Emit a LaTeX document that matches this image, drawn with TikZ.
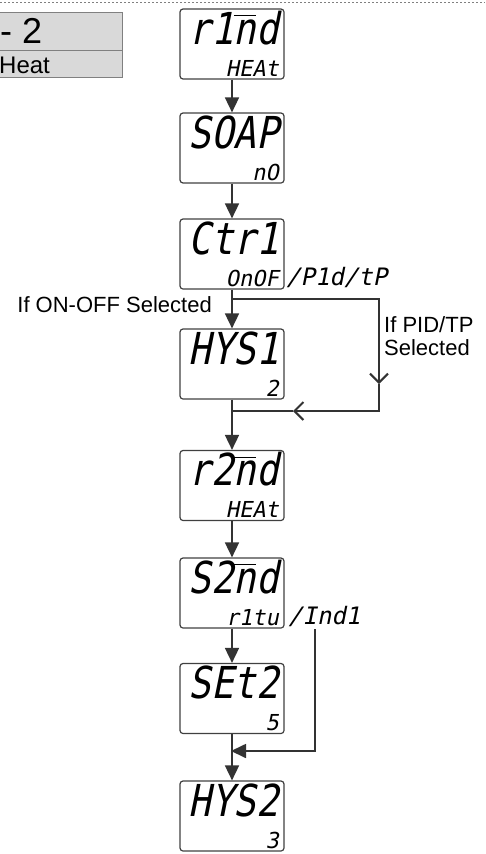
\documentclass[tikz,border=0pt]{standalone}
\usepackage{fontspec}
\setmainfont{Liberation Sans}
\newfontfamily\segbig[FakeSlant=0.2,FakeStretch=0.85]{DejaVu Sans Mono}
\newfontfamily\segsmall[FakeSlant=0.2]{DejaVu Sans Mono}
\newcommand\barn{$\overline{\hbox{n\rule{0pt}{27pt}}}$}
\usetikzlibrary{arrows.meta}

\begin{document}
\begin{tikzpicture}[x=1pt, y=-1pt,
    disp/.style={draw=black!75, line width=1.2pt, rounded corners=3pt, minimum width=104pt, minimum height=70pt, inner sep=0pt},
    bigtxt/.style={font=\fontsize{44}{44}\segbig, inner sep=0pt, anchor=base east},
    smalltxt/.style={font=\fontsize{22}{22}\segsmall, inner sep=0pt, anchor=base east},
    sidetxt/.style={font=\fontsize{24}{24}\segsmall, inner sep=0pt, anchor=base west},
    lbl/.style={font=\fontsize{22}{23}\selectfont, inner sep=0pt},
    flow/.style={draw=black!80, line width=1.7pt, -{Triangle[length=15pt,width=14pt]}},
    barb/.style={draw=black!80, line width=1.7pt, -{Straight Barb[length=9pt,width=18pt,line width=2pt]}},
    plain/.style={draw=black!80, line width=1.7pt}]
        \useasboundingbox (0,0) rectangle (485,854);

        % Dotted rule at the top
        \draw[gray, dash pattern=on 2pt off 2pt] (0,2) -- (485,2);

        % Table corner
        \draw[gray, fill=black!15] (-1,12) rectangle (122,50);
        \draw[gray, fill=black!15] (-1,50) rectangle (122,77);
        \node[lbl, font=\fontsize{36}{36}\selectfont, anchor=base west] (relay) at (0,43) {- 2};
        \node[lbl, font=\fontsize{24}{24}\selectfont, anchor=base west] (heat) at (-1,73) {Heat};

        % Displays
        \foreach \n/\y/\a/\b in {rind/44/r1\barn d/HEAt, soap/148/SOAP/nO, ctr/254/Ctr1/OnOF,
                hys1/364/HYS1/2, r2nd/485.5/r2\barn d/HEAt, s2nd/593/S2\barn d/r1tu,
                set2/698.5/SEt2/5, hys2/816/HYS2/3} {
            \node[disp] (\n) at (232,\y) {};
            \node[bigtxt] (\n-top) at (279,\y) {\a};
            \node[smalltxt] (\n-bot) at (279,\y+32) {\b};
        }

        % Other choices
        \node[sidetxt] (ctr-alt) at (286,285) {/P1d/tP};
        \node[sidetxt] (s2nd-alt) at (288,624) {/Ind1};

        % Main flow
        \draw[flow] (rind) -- (soap);
        \draw[flow] (soap) -- (ctr);
        \draw[flow] (ctr) -- (hys1);
        \draw[flow] (hys1) -- (r2nd);
        \draw[flow] (r2nd) -- (s2nd);
        \draw[flow] (s2nd) -- (set2);
        \draw[flow] (set2) -- (hys2);

        % PID/TP bypass
        \coordinate (split1) at (231,299);
        \coordinate (pidR) at (379,299);
        \coordinate (pidMid) at (379,384);
        \coordinate (pidB) at (379,411);
        \coordinate (pidArr) at (293,411);
        \coordinate (join1) at (231,411);
        \draw[barb] (split1) -- (pidR) -- (pidMid);
        \draw[barb] (pidMid) -- (pidB) -- (pidArr);
        \draw[plain] (pidArr) -- (join1);

        \node[lbl, anchor=east] (onoff) at (212,305) {If ON-OFF Selected};
        \node[lbl, anchor=north west, align=left] (pidtp) at (384,316) {If PID/TP\\Selected};

        % Ind1 bypass
        \coordinate (indTop) at (315,629);
        \coordinate (join2) at (231,751);
        \draw[flow] (indTop) |- (join2);
\end{tikzpicture}
\end{document}
